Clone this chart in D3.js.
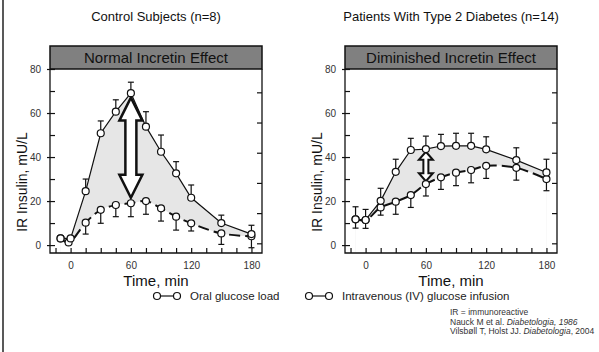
<!DOCTYPE html>
<html>
<head>
<meta charset="utf-8">
<script src="https://cdn.jsdelivr.net/npm/d3@7"></script>
<style>
  body { margin: 0; background: #fff; }
  text { font-family: "Liberation Sans", Arial, sans-serif; }
</style>
</head>
<body>
<svg id="chart" width="599" height="352"></svg>
<script>
// time points (min)
const times = [-10, 0, 15, 30, 45, 60, 75, 90, 105, 120, 150, 180];
const controlIvTimes = [-10, -2, 15, 30, 45, 60, 75, 90, 105, 120, 150, 180];

// control subjects
const controlOral = [3, 3, 24.5, 50.8, 60.6, 69, 53.8, 42.4, 32.6, 21.5, 10, 5];
const controlOralErr = [0, 0, 5.5, 5.6, 5.4, 5, 6.8, 7.6, 5.3, 5.8, 3.6, 4];
const controlIv = [3, 1.2, 10.2, 16, 18.2, 19, 20, 16.7, 12.9, 9.9, 5.3, 4];
const controlIvErr = [0, 0, 5.2, 6.1, 5.3, 6.1, 6, 5.8, 6.1, 3.5, 5, 5.2];

// type 2 diabetes patients
const diabetesOral = [11.7, 11.4, 20.1, 33.3, 43.2, 43.6, 45, 45.1, 45.1, 43.5, 38.6, 33];
const diabetesOralErr = [5.7, 4.8, 5.7, 5.7, 5.3, 5.9, 5.3, 5.7, 5.7, 5.7, 5.6, 6];
const diabetesIv = [11.7, 11.4, 17.1, 19.7, 22.7, 27.7, 30.8, 32.9, 34.1, 36, 35.1, 30];
const diabetesIvErr = [4, 3.8, 3.5, 5.7, 5.6, 5.4, 5.5, 5.9, 5.8, 5.7, 5.6, 5.3];

const xTickLabels = [0, 60, 120, 180];
const yTickLabels = [0, 20, 40, 60, 80];
const legendLabels = ["Oral glucose load", "Intravenous (IV) glucose infusion"];

const svg = d3.select("#chart");

// frame line on the left
svg.append("line").attr("x1", 3).attr("x2", 3).attr("y1", 0).attr("y2", 352)
  .attr("stroke", "#222").attr("stroke-width", 1.5);

const panels = [
  { left: 50, title: "Control Subjects (n=8)", header: "Normal Incretin Effect",
    oral: controlOral, oralErr: controlOralErr, ivT: controlIvTimes, iv: controlIv, ivErr: controlIvErr,
    arrow: [21.5, 67], arrowSize: { hw: 11.5, hh: 23, sw: 5.5, sw2: 2.5 } },
  { left: 345, title: "Patients With Type 2 Diabetes (n=14)", header: "Diminished Incretin Effect",
    oral: diabetesOral, oralErr: diabetesOralErr, ivT: times, iv: diabetesIv, ivErr: diabetesIvErr,
    arrow: [29, 42.4], arrowSize: { hw: 7, hh: 8, sw: 2.5, sw2: 2 } }
];

const W = 212, plotTop = 69, plotBottom = 253;

panels.forEach(p => {
  const g = svg.append("g");
  const x = d3.scaleLinear().domain([-20.5, 190.5]).range([p.left, p.left + W]);
  const y = d3.scaleLinear().domain([-3.6, 80]).range([plotBottom, plotTop]);
  const cx = p.left + W / 2;

  g.append("text").attr("x", cx).attr("y", 21).attr("text-anchor", "middle")
    .attr("font-size", 13).attr("fill", "#111").text(p.title);

  // shaded difference: grey under oral, white under IV
  const oralPts = times.map((t, i) => [t, p.oral[i]]);
  const ivPts = p.ivT.map((t, i) => [t, p.iv[i]]);
  g.append("path").datum(oralPts)
    .attr("d", d3.area().x(d => x(d[0])).y0(y(-3.6)).y1(d => y(d[1])))
    .attr("fill", "#e6e6e6");
  g.append("path").datum(ivPts)
    .attr("d", d3.area().curve(d3.curveCatmullRom).x(d => x(d[0])).y0(y(-3.6)).y1(d => y(d[1])))
    .attr("fill", "#fff");

  // header box
  g.append("rect").attr("x", p.left).attr("y", 46).attr("width", W).attr("height", plotTop - 46)
    .attr("fill", "#808080").attr("stroke", "#111").attr("stroke-width", 1.5);
  g.append("text").attr("x", cx).attr("y", 63).attr("text-anchor", "middle")
    .attr("font-size", 15).attr("fill", "#111").text(p.header);

  // plot frame
  g.append("path")
    .attr("d", `M${p.left},${plotTop}V${plotBottom}H${p.left + W}V${plotTop}`)
    .attr("fill", "none").attr("stroke", "#111").attr("stroke-width", 1.3);

  // axes
  const xAx = g.append("g").attr("transform", `translate(0,${plotBottom})`)
    .call(d3.axisBottom(x).tickValues(d3.range(-15, 181, 15)).tickSize(-5).tickFormat(""));
  const xLab = g.append("g").attr("transform", `translate(0,${plotBottom})`)
    .call(d3.axisBottom(x).tickValues(xTickLabels).tickSize(0).tickPadding(9));
  const yAx = g.append("g").attr("transform", `translate(${p.left},0)`)
    .call(d3.axisLeft(y).tickValues(d3.range(0, 81, 10)).tickSize(-5).tickFormat(""));
  const yOut = g.append("g").attr("transform", `translate(${p.left},0)`)
    .call(d3.axisLeft(y).tickValues(yTickLabels).tickSize(3).tickFormat(""));
  const yLab = g.append("g").attr("transform", `translate(${p.left},0)`)
    .call(d3.axisLeft(y).tickValues(yTickLabels).tickSize(0).tickPadding(9));
  const y2 = d3.scaleLinear().domain([0, 5]).range([y(0.8), y(69.4)]);
  const yRight = g.append("g").attr("transform", `translate(${p.left + W},0)`)
    .call(d3.axisRight(y2).ticks(5).tickSize(-5).tickFormat(""));
  [xAx, xLab, yAx, yOut, yLab, yRight].forEach(a => {
    a.select(".domain").remove();
    a.selectAll("line").attr("stroke", "#111").attr("stroke-width", 1.2);
    a.selectAll("text").attr("font-size", 10).attr("fill", "#333")
      .attr("font-family", '"Liberation Sans", Arial, sans-serif');
  });

  g.append("text").attr("x", cx).attr("y", 286).attr("text-anchor", "middle")
    .attr("font-size", 15).attr("fill", "#111").text("Time, min");
  g.append("text").attr("transform", `translate(${p.left - 23},${y(40) + 25}) rotate(-90)`)
    .attr("text-anchor", "middle").attr("font-size", 14).attr("fill", "#111").text("IR Insulin, mU/L");

  // error bars (oral up, IV down)
  const bar = (gg, tt, vals, errs, dir) => {
    tt.forEach((t, i) => {
      if (!errs[i]) return;
      const x0 = x(t), y0 = y(vals[i]), y1 = y(vals[i] + dir * errs[i]);
      gg.append("line").attr("x1", x0).attr("x2", x0).attr("y1", y0).attr("y2", y1);
      gg.append("line").attr("x1", x0 - 3).attr("x2", x0 + 3).attr("y1", y1).attr("y2", y1);
    });
  };
  const eb = g.append("g").attr("stroke", "#111").attr("stroke-width", 1.2);
  bar(eb, times, p.oral, p.oralErr, 1);
  bar(eb, p.ivT, p.iv, p.ivErr, -1);

  // lines
  g.append("path").datum(oralPts)
    .attr("d", d3.line().x(d => x(d[0])).y(d => y(d[1])))
    .attr("fill", "none").attr("stroke", "#111").attr("stroke-width", 1.2);
  g.append("path").datum(ivPts)
    .attr("d", d3.line().curve(d3.curveCatmullRom).x(d => x(d[0])).y(d => y(d[1])))
    .attr("fill", "none").attr("stroke", "#111").attr("stroke-width", 2)
    .attr("stroke-dasharray", "11,5");

  // arrow
  const s = p.arrowSize, ax = x(60), yT = y(p.arrow[1]), yB = y(p.arrow[0]);
  const arrowPts = [
    [ax, yT], [ax + s.hw, yT + s.hh], [ax + s.sw, yT + s.hh], [ax + s.sw, yB - s.hh],
    [ax + s.hw, yB - s.hh], [ax, yB], [ax - s.hw, yB - s.hh], [ax - s.sw, yB - s.hh],
    [ax - s.sw, yT + s.hh], [ax - s.hw, yT + s.hh]
  ];
  g.append("path").attr("d", d3.line()(arrowPts) + "Z")
    .attr("fill", "#fff").attr("stroke", "#111").attr("stroke-width", s.sw2)
    .attr("stroke-linejoin", "miter");

  // markers
  const mk = g.append("g").attr("fill", "#fff").attr("stroke", "#111").attr("stroke-width", 1.2);
  ivPts.forEach(d => mk.append("circle").attr("cx", x(d[0])).attr("cy", y(d[1])).attr("r", 3.5));
  oralPts.forEach(d => mk.append("circle").attr("cx", x(d[0])).attr("cy", y(d[1])).attr("r", 3.5));
});

// legend
const legendX = [157, 309];
legendLabels.forEach((lab, i) => {
  const lg = svg.append("g").attr("transform", `translate(${legendX[i]},296)`);
  lg.append("line").attr("x1", 0).attr("x2", 20).attr("stroke", "#111").attr("stroke-width", 1.2);
  [0, 20].forEach(cx => lg.append("circle").attr("cx", cx).attr("r", 3.5)
    .attr("fill", "#fff").attr("stroke", "#111").attr("stroke-width", 1.2));
  lg.append("text").attr("x", 33).attr("y", 4).attr("font-size", 11.5).attr("fill", "#222").text(lab);
});

// source note
const note = svg.append("g").attr("font-size", 8.5).attr("fill", "#333");
note.append("text").attr("x", 450).attr("y", 315).text("IR = immunoreactive");
const n2 = note.append("text").attr("x", 450).attr("y", 324.5);
n2.append("tspan").text("Nauck M et al. ");
n2.append("tspan").attr("font-style", "italic").text("Diabetologia, 1986");
const n3 = note.append("text").attr("x", 450).attr("y", 334);
n3.append("tspan").text("Vilsbøll T, Holst JJ. ");
n3.append("tspan").attr("font-style", "italic").text("Diabetologia");
n3.append("tspan").text(", 2004");
</script>
</body>
</html>
